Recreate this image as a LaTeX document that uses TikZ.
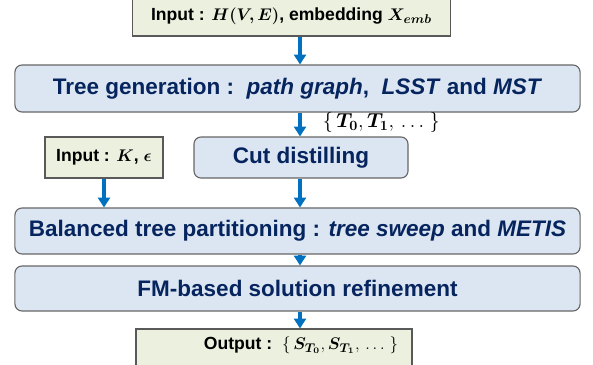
\documentclass[tikz,border=0pt]{standalone}
\usepackage{fontspec}
\setmainfont{Liberation Sans}
\usepackage{amsmath}
\usepackage{bm}
\usetikzlibrary{arrows.meta}

\definecolor{boxgreen}{HTML}{EBF1DE}
\definecolor{boxblue}{HTML}{DCE6F2}
\definecolor{navy}{HTML}{06255E}
\definecolor{arrowblue}{HTML}{0070C0}

\tikzset{
  inbox/.style={draw=black!65, fill=boxgreen, line width=0.8pt, inner sep=0pt,
    font=\bfseries\fontsize{12.5}{15}\selectfont},
  stepbox/.style={draw=black!60, fill=boxblue, rounded corners=5pt, line width=0.8pt,
    inner sep=0pt, text=navy, font=\bfseries\fontsize{16}{19}\selectfont},
  flow/.style={-{Triangle[length=7pt,width=8.5pt]}, arrowblue, line width=2.2pt}
}

\begin{document}
\begin{tikzpicture}[x=0.025cm, y=-0.025cm]
\useasboundingbox (0,0) rectangle (593,364);

\coordinate (spine) at (300,0);

\node[inbox, minimum width=7.93cm, minimum height=0.975cm] (in) at (291.5,16.5)
  {Input : $\bm{H(V,E)}$, embedding $\bm{X_{emb}}$};
\node[stepbox, minimum width=14.125cm, minimum height=1.175cm] (tree) at (297.5,88.5)
  {Tree generation :\ \ \textit{path graph},\ \ \textit{LSST} and \textit{MST}};
\node[anchor=west, font=\fontsize{14}{16}\selectfont] (trees) at (318,122)
  {$\{\,\bm{T_0},\bm{T_1},\,\ldots\ \}$};
\node[inbox, minimum width=2.95cm, minimum height=1.025cm] (ink) at (104,157.5)
  {Input : $\bm{K}$, $\bm{\epsilon}$};
\node[stepbox, minimum width=5.35cm, minimum height=1.025cm] (cut) at (301,157.5)
  {Cut distilling};
\node[stepbox, minimum width=14.125cm, minimum height=1.15cm] (part) at (297.5,231)
  {Balanced tree partitioning : \textit{tree sweep} and \textit{METIS}};
\node[stepbox, minimum width=14.125cm, minimum height=1.125cm] (fm) at (297.5,288.5)
  {FM-based solution refinement};
\node[inbox, minimum width=6.9cm, minimum height=0.95cm] (out) at (274,348) {};
\node[font=\bfseries\fontsize{12.5}{15}\selectfont] (outtxt) at (301,345)
  {Output :\ \ $\{\,\bm{S_{T_0}},\bm{S_{T_1}},\,\ldots\ \}$};

\draw[flow] (in.south -| spine) -- (tree.north -| spine);
\draw[flow] (tree.south -| spine) -- (cut.north -| spine);
\draw[flow] (ink.south) -- (part.north -| ink.south);
\draw[flow] (cut.south -| spine) -- (part.north -| spine);
\draw[flow] (part.south -| spine) -- (fm.north -| spine);
\draw[flow] (fm.south -| spine) -- (out.north -| spine);

\end{tikzpicture}
\end{document}
